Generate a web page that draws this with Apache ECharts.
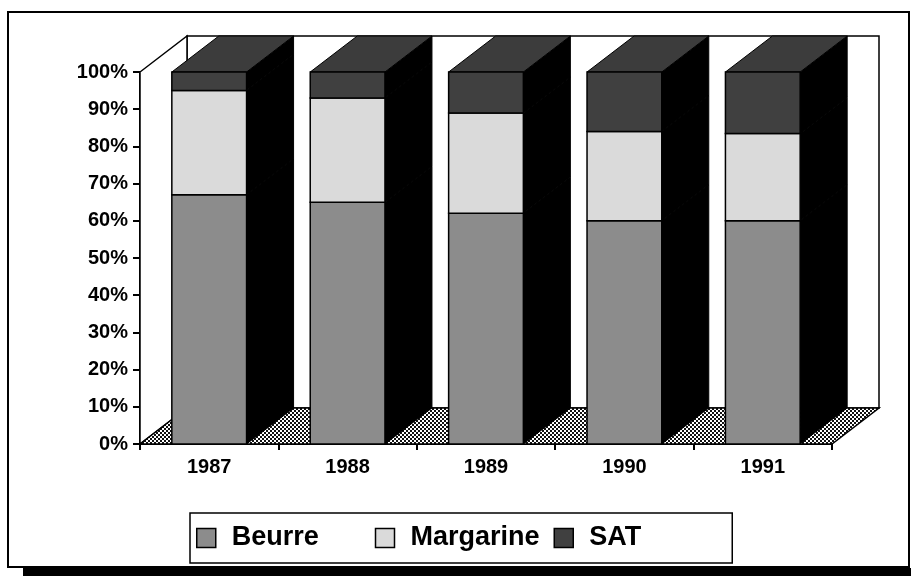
<!DOCTYPE html>
<html>
<head>
<meta charset="utf-8">
<script src="https://cdn.jsdelivr.net/npm/echarts@6/dist/echarts.min.js"></script>
<style>
html,body{margin:0;padding:0;background:#fff;}
#main{width:911px;height:576px;}
</style>
</head>
<body>
<div id="main"></div>
<script>
// parts de marché (%)
const years = ['1987', '1988', '1989', '1990', '1991'];
const beurre = [67, 65, 62, 60, 60];
const margarine = [28, 28, 27, 24, 23.5];
const sat = [5, 7, 11, 16, 16.5];

const FONT = 'Liberation Sans';
const DX = 47, DY = -36;   // profondeur 3D
const BAR = 0.54;

function hatch() {
  const c = document.createElement('canvas');
  c.width = 4; c.height = 4;
  const g = c.getContext('2d');
  g.fillStyle = '#fff'; g.fillRect(0, 0, 4, 4);
  g.fillStyle = '#111';
  g.fillRect(0, 0, 2, 2); g.fillRect(2, 2, 2, 2);
  return c;
}

// empilement
function stackData(vals, base) {
  return vals.map((v, i) => [i, base[i] / 100, (base[i] + v) / 100]);
}
const zero = years.map(() => 0);
const b1 = beurre.slice();
const b2 = beurre.map((v, i) => v + margarine[i]);

function segRender(fill, isTop) {
  return function (params, api) {
    const i = api.value(0), lo = api.value(1), hi = api.value(2);
    const pLo = api.coord([i, lo]), pHi = api.coord([i, hi]);
    const bw = api.size([1, 0])[0] * BAR;
    const x0 = pLo[0] - bw / 2, x1 = pLo[0] + bw / 2;
    const kids = [{
      type: 'polygon',
      shape: {points: [[x1, pLo[1]], [x1, pHi[1]], [x1 + DX, pHi[1] + DY], [x1 + DX, pLo[1] + DY]]},
      style: {fill: '#000', stroke: '#000', lineWidth: 1}
    }];
    if (isTop) {
      kids.push({
        type: 'polygon',
        shape: {points: [[x0, pHi[1]], [x1, pHi[1]], [x1 + DX, pHi[1] + DY], [x0 + DX, pHi[1] + DY]]},
        style: {fill: '#3c3c3c', stroke: '#000', lineWidth: 1}
      });
    }
    kids.push({
      type: 'rect',
      shape: {x: x0, y: pHi[1], width: bw, height: pLo[1] - pHi[1]},
      style: {fill: fill, stroke: '#000', lineWidth: 1.5}
    });
    return {type: 'group', children: kids};
  };
}

function wallsRender(params, api) {
  const cs = params.coordSys;
  const L = cs.x, R = cs.x + cs.width, T = cs.y, B = cs.y + cs.height;
  return {type: 'group', children: [
    {type: 'rect', shape: {x: L + DX, y: T + DY, width: R - L, height: B - T},
      style: {fill: '#fff', stroke: '#000', lineWidth: 1.5}},
    {type: 'polygon', shape: {points: [[L, B], [L, T], [L + DX, T + DY], [L + DX, B + DY]]},
      style: {fill: '#fff', stroke: '#000', lineWidth: 1.5}},
    {type: 'polygon', shape: {points: [[L, B], [R, B], [R + DX, B + DY], [L + DX, B + DY]]},
      style: {fill: {image: hatch(), repeat: 'repeat'}, stroke: '#000', lineWidth: 1.5}}
  ]};
}

const colors = {Beurre: '#8c8c8c', Margarine: '#dadada', SAT: '#404040'};

const chart = echarts.init(document.getElementById('main'));
chart.setOption({
  animation: false,
  backgroundColor: '#fff',
  grid: {left: 140, right: 79, top: 72, bottom: 132, outerBoundsMode: 'none'},
  xAxis: {
    type: 'category',
    data: years,
    boundaryGap: true,
    axisLine: {lineStyle: {color: '#000', width: 2}},
    axisTick: {show: true, alignWithLabel: false, length: 6, lineStyle: {color: '#000', width: 2}},
    axisLabel: {color: '#000', fontFamily: FONT, fontWeight: 'bold', fontSize: 20, margin: 13},
    splitLine: {show: false}
  },
  yAxis: {
    type: 'value',
    min: 0, max: 1, interval: 0.1,
    axisLine: {show: true, lineStyle: {color: '#000', width: 2}},
    axisTick: {show: true, length: 7, lineStyle: {color: '#000', width: 2}},
    axisLabel: {
      color: '#000', fontFamily: FONT, fontWeight: 'bold', fontSize: 20, margin: 12,
      formatter: v => Math.round(v * 100) + '%'
    },
    splitLine: {show: false}
  },
  legend: {
    left: 190, top: 513,
    padding: [9, 0, 9, 6],
    itemGap: 0, itemWidth: 19, itemHeight: 19,
    borderColor: '#000', borderWidth: 1.5,
    icon: 'rect',
    itemStyle: {borderColor: '#000', borderWidth: 1.5},
    textStyle: {fontFamily: FONT, fontWeight: 'bold', fontSize: 27, color: '#000',
      width: 143, padding: [0, 0, 0, 11], lineHeight: 32},
    data: ['Beurre', 'Margarine', 'SAT']
  },
  graphic: [
    {type: 'rect', silent: true, shape: {x: 8, y: 12, width: 901, height: 555},
      style: {fill: 'none', stroke: '#000', lineWidth: 2}},
    {type: 'rect', silent: true, shape: {x: 23, y: 568, width: 888, height: 8},
      style: {fill: '#000'}}
  ],
  series: [
    {type: 'custom', name: 'walls', silent: true, clip: false, z: 1,
      data: [[0, 0]], encode: {x: 0, y: 1}, renderItem: wallsRender},
    {type: 'custom', name: 'Beurre', clip: false, z: 2, itemStyle: {color: colors.Beurre},
      data: stackData(beurre, zero), encode: {x: 0, y: [1, 2]}, renderItem: segRender(colors.Beurre, false)},
    {type: 'custom', name: 'Margarine', clip: false, z: 2, itemStyle: {color: colors.Margarine},
      data: stackData(margarine, b1), encode: {x: 0, y: [1, 2]}, renderItem: segRender(colors.Margarine, false)},
    {type: 'custom', name: 'SAT', clip: false, z: 2, itemStyle: {color: colors.SAT},
      data: stackData(sat, b2), encode: {x: 0, y: [1, 2]}, renderItem: segRender(colors.SAT, true)}
  ]
});
</script>
</body>
</html>
